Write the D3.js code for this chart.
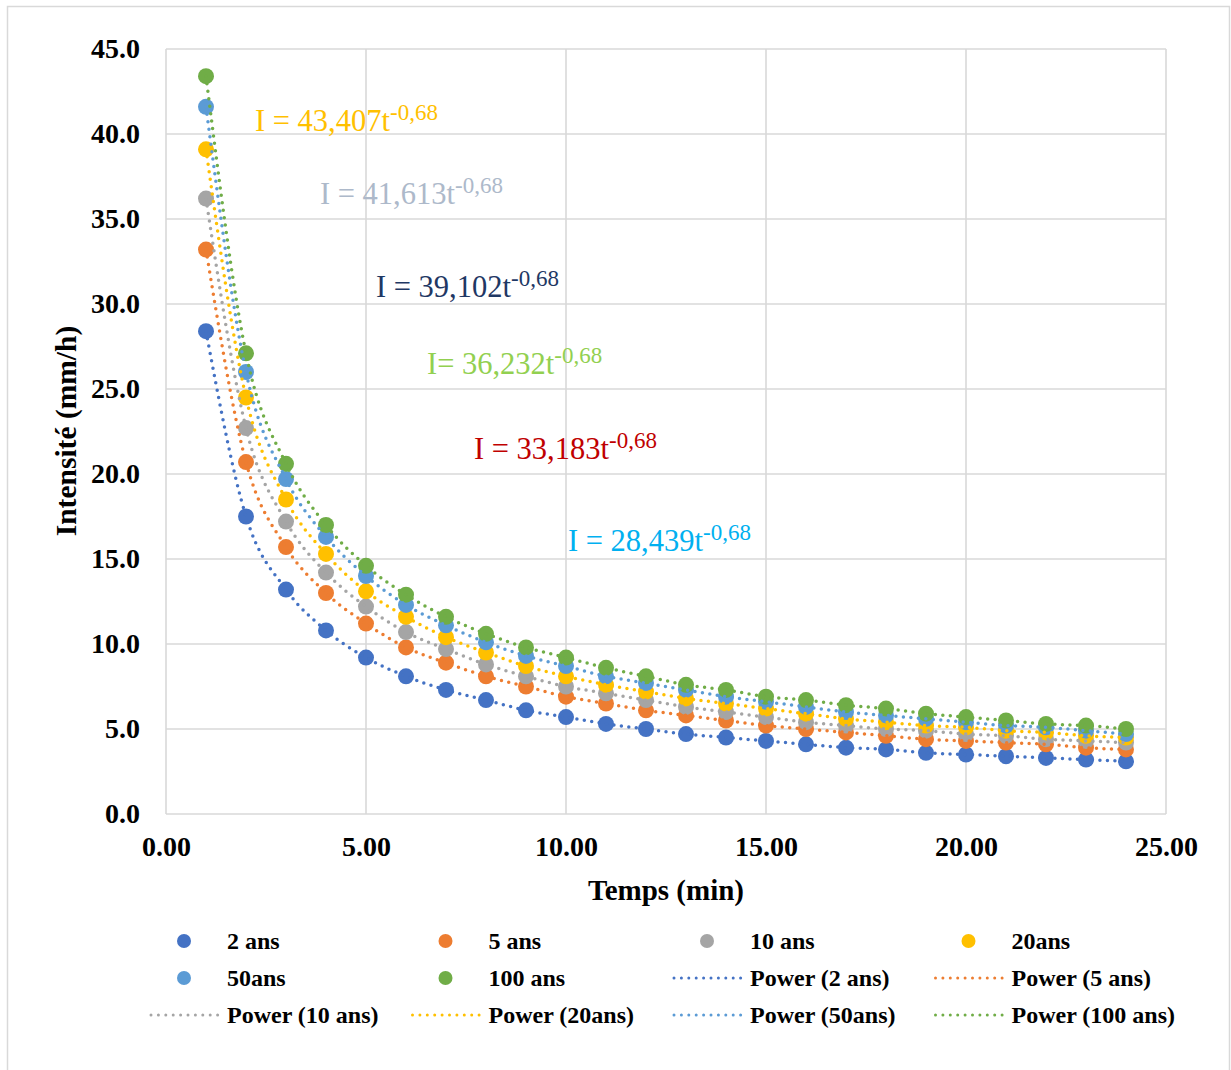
<!DOCTYPE html>
<html>
<head>
<meta charset="utf-8">
<script src="https://cdn.jsdelivr.net/npm/d3@7"></script>
<style>
  body { margin: 0; background: #fff; }
  svg text { font-family: "Liberation Serif", "Times New Roman", serif; }
</style>
</head>
<body>
<div id="chart"></div>
<script>
// durations (min)
var temps = [1,2,3,4,5,6,7,8,9,10,11,12,13,14,15,16,17,18,19,20,21,22,23,24];

// intensities (mm/h)
var ans2   = [28.4,17.5,13.2,10.8,9.2,8.1,7.3,6.7,6.1,5.7,5.3,5.0,4.7,4.5,4.3,4.1,3.9,3.8,3.6,3.5,3.4,3.3,3.2,3.1];
var ans5   = [33.2,20.7,15.7,13.0,11.2,9.8,8.9,8.1,7.5,6.9,6.5,6.1,5.8,5.5,5.2,5.0,4.8,4.6,4.4,4.3,4.2,4.1,3.9,3.8];
var ans10  = [36.2,22.7,17.2,14.2,12.2,10.7,9.7,8.8,8.1,7.5,7.1,6.7,6.3,6.0,5.7,5.4,5.2,5.0,4.9,4.7,4.6,4.4,4.3,4.2];
var ans20  = [39.1,24.5,18.5,15.3,13.1,11.6,10.4,9.5,8.7,8.1,7.6,7.2,6.8,6.5,6.2,5.9,5.6,5.4,5.2,5.1,4.9,4.8,4.6,4.5];
var ans50  = [41.6,26.0,19.7,16.3,14.0,12.3,11.1,10.1,9.3,8.7,8.1,7.7,7.3,6.9,6.6,6.3,6.0,5.8,5.6,5.4,5.2,5.1,4.9,4.7];
var ans100 = [43.4,27.1,20.6,17.0,14.6,12.9,11.6,10.6,9.8,9.2,8.6,8.1,7.6,7.3,6.9,6.7,6.4,6.2,5.9,5.7,5.5,5.3,5.2,5.0];

var seriesNames = ["2 ans", "5 ans", "10 ans", "20ans", "50ans", "100 ans"];
var trendNames  = ["Power (2 ans)", "Power (5 ans)", "Power (10 ans)", "Power (20ans)", "Power (50ans)", "Power (100 ans)"];
var seriesValues = [ans2, ans5, ans10, ans20, ans50, ans100];
var seriesColors = ["#4472C4", "#ED7D31", "#A5A5A5", "#FFC000", "#5B9BD5", "#70AD47"];

var xTicks = [0, 5, 10, 15, 20, 25];
var yTicks = [0, 5, 10, 15, 20, 25, 30, 35, 40, 45];

// equation labels as placed on the chart
var eqCoef   = ["43,407", "41,613", "39,102", "36,232", "33,183", "28,439"];
var eqPrefix = ["I = ", "I = ", "I = ", "I= ", "I = ", "I = "];
var eqColors = ["#FFC000", "#ADB9CA", "#1F3864", "#92D050", "#C00000", "#00B0F0"];
var eqPos    = [[255, 131], [320, 204], [376, 297], [427, 374], [474, 459], [568, 551]];

var W = 1231, H = 1070;
var svg = d3.select("#chart").append("svg")
	.attr("width", W)
	.attr("height", H);

svg.append("rect").attr("width", W).attr("height", H).attr("fill", "#fff");
svg.append("rect")
	.attr("x", 7.5).attr("y", 6.5)
	.attr("width", 1222).attr("height", H + 10)
	.attr("fill", "none")
	.attr("stroke", "#d9d9d9")
	.attr("stroke-width", 1.5);

var x = d3.scaleLinear().domain([0, 25]).range([166, 1166]);
var y = d3.scaleLinear().domain([0, 45]).range([814, 49]);

// grid
var grid = svg.append("g").attr("stroke", "#d9d9d9").attr("stroke-width", 1.6);
grid.selectAll(".gy").data(yTicks).enter().append("line")
	.attr("x1", x(0)).attr("x2", x(25))
	.attr("y1", function(d) { return y(d); })
	.attr("y2", function(d) { return y(d); });
grid.selectAll(".gx").data(xTicks).enter().append("line")
	.attr("y1", y(0)).attr("y2", y(45))
	.attr("x1", function(d) { return x(d); })
	.attr("x2", function(d) { return x(d); });

// axes (labels only, Excel-like)
var yAxis = svg.append("g")
	.attr("transform", "translate(" + (x(0) - 26) + ",0)")
	.call(d3.axisLeft(y).tickValues(yTicks).tickFormat(d3.format(".1f")).tickSize(0).tickPadding(0));
var xAxis = svg.append("g")
	.attr("transform", "translate(0," + (y(0) + 22) + ")")
	.call(d3.axisBottom(x).tickValues(xTicks).tickFormat(d3.format(".2f")).tickSize(0).tickPadding(0));
[xAxis, yAxis].forEach(function(a) {
	a.select(".domain").remove();
	a.selectAll("text")
		.attr("font-family", '"Liberation Serif", "Times New Roman", serif')
		.attr("font-size", 28)
		.attr("font-weight", "bold")
		.attr("fill", "#000");
});

svg.append("text")
	.attr("x", 666).attr("y", 900)
	.attr("text-anchor", "middle")
	.attr("font-size", 29).attr("font-weight", "bold")
	.text("Temps (min)");

svg.append("text")
	.attr("transform", "translate(76,431) rotate(-90)")
	.attr("text-anchor", "middle")
	.attr("font-size", 29.5).attr("font-weight", "bold")
	.text("Intensité (mm/h)");

// markers
var marks = svg.append("g");
seriesValues.forEach(function(vals, i) {
	marks.append("g").selectAll("circle")
		.data(vals)
		.enter().append("circle")
		.attr("cx", function(d, k) { return x(temps[k]); })
		.attr("cy", function(d) { return y(d); })
		.attr("r", 8)
		.attr("fill", seriesColors[i]);
});

// trendlines (dotted)
var line = d3.line()
	.x(function(d, k) { return x(temps[k]); })
	.y(function(d) { return y(d); })
	.curve(d3.curveMonotoneX);
seriesValues.forEach(function(vals, i) {
	svg.append("path")
		.attr("d", line(vals))
		.attr("fill", "none")
		.attr("stroke", seriesColors[i])
		.attr("stroke-width", 3.5)
		.attr("stroke-linecap", "round")
		.attr("stroke-dasharray", "0 7.5");
});

// equations
eqCoef.forEach(function(c, i) {
	var t = svg.append("text")
		.attr("x", eqPos[i][0]).attr("y", eqPos[i][1])
		.attr("font-size", 30.5)
		.attr("fill", eqColors[i]);
	t.append("tspan").text(eqPrefix[i] + c + "t");
	t.append("tspan").attr("dy", -11).attr("font-size", 23).text("-0,68");
});

// legend
var legendItems = seriesNames.map(function(n, i) { return {name: n, color: seriesColors[i], type: "dot"}; })
	.concat(trendNames.map(function(n, i) { return {name: n, color: seriesColors[i], type: "line"}; }));
var legend = svg.append("g");
legendItems.forEach(function(it, i) {
	var col = i % 4, row = Math.floor(i / 4);
	var cx = 184 + col * 261.5, cy = 941 + row * 37;
	var g = legend.append("g");
	if (it.type === "dot") {
		g.append("circle").attr("cx", cx).attr("cy", cy).attr("r", 7).attr("fill", it.color);
	} else {
		g.append("line")
			.attr("x1", cx - 33).attr("x2", cx + 34)
			.attr("y1", cy).attr("y2", cy)
			.attr("stroke", it.color)
			.attr("stroke-width", 3)
			.attr("stroke-linecap", "round")
			.attr("stroke-dasharray", "0 7.4");
	}
	g.append("text")
		.attr("x", cx + 43).attr("y", cy)
		.attr("dy", "0.35em")
		.attr("font-size", 24).attr("font-weight", "bold")
		.text(it.name);
});
</script>
</body>
</html>
